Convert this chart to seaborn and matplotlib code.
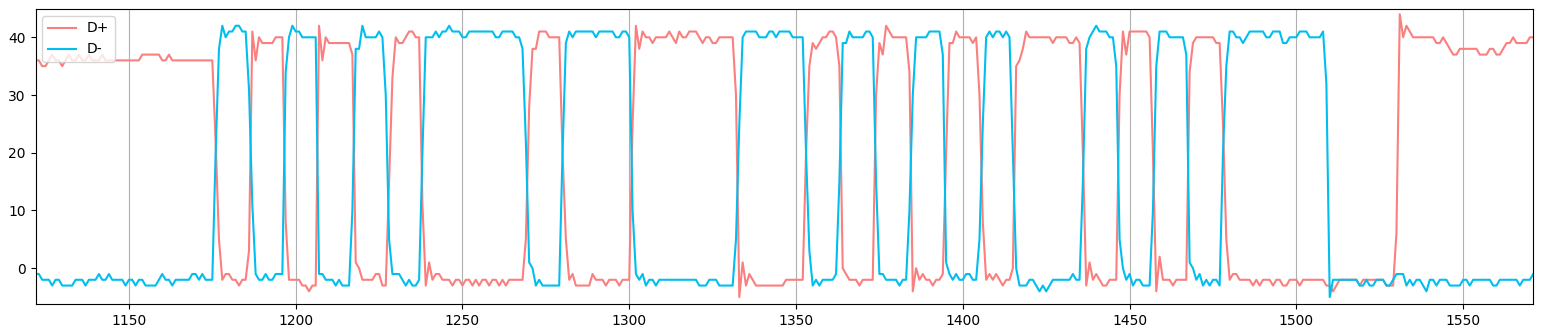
import pandas as pd
import numpy as np
import matplotlib
matplotlib.use("Agg")
import matplotlib.pyplot as plt
import seaborn as sns

# Sample index (x axis)
sample = list(range(1122, 1572))

# D+ signal, one value per sample (rows of 10)
d_plus = [
    36, 36, 35, 35, 36, 37, 36, 36, 35, 36,
    37, 36, 36, 37, 36, 36, 37, 36, 36, 36,
    37, 36, 36, 36, 36, 36, 36, 36, 36, 36,
    36, 36, 37, 37, 37, 37, 37, 37, 36, 36,
    37, 36, 36, 36, 36, 36, 36, 36, 36, 36,
    36, 36, 36, 36, 22, 5, -2, -1, -1, -2,
    -2, -3, -2, -2, 3, 41, 36, 40, 39, 39,
    39, 39, 40, 40, 40, 8, -2, -2, -2, -2,
    -3, -3, -4, -3, -3, 42, 36, 40, 39, 39,
    39, 39, 39, 39, 39, 37, 1, 0, -2, -2,
    -2, -2, -1, -1, -3, -3, 15, 33, 40, 39,
    39, 40, 41, 41, 40, 40, 11, -3, 1, -2,
    -1, -1, -2, -2, -2, -3, -2, -2, -3, -2,
    -2, -3, -2, -3, -2, -2, -3, -2, -2, -3,
    -2, -3, -2, -2, -2, -2, -2, 5, 28, 38,
    38, 41, 41, 41, 40, 40, 40, 40, 20, 5,
    -2, -1, -3, -3, -3, -3, -3, -1, -2, -2,
    -2, -3, -2, -2, -2, -3, -2, -2, -2, 25,
    42, 38, 41, 40, 40, 39, 40, 40, 40, 40,
    41, 40, 39, 41, 40, 40, 41, 41, 41, 40,
    39, 40, 40, 39, 39, 40, 40, 40, 40, 40,
    30, -5, 1, -3, -1, -2, -3, -3, -3, -3,
    -3, -3, -3, -3, -3, -2, -2, -2, -2, -2,
    -2, 20, 35, 39, 38, 39, 40, 40, 41, 41,
    40, 35, 0, -1, -2, -2, -2, -3, -2, -2,
    -2, -2, 30, 39, 37, 42, 41, 40, 40, 40,
    40, 40, 34, -4, 0, -2, -1, -2, -2, -3,
    -2, -2, -1, 20, 39, 39, 41, 40, 40, 40,
    40, 39, 40, 30, 8, -2, -1, -2, -1, -2,
    -3, -2, -2, 0, 35, 36, 38, 41, 40, 40,
    40, 40, 40, 40, 40, 39, 40, 40, 40, 40,
    39, 39, 40, 39, 20, -3, 1, -2, -1, -2,
    -3, -3, -2, -2, -2, 30, 41, 37, 41, 41,
    41, 41, 41, 41, 40, 20, -4, 2, -2, -2,
    -2, -3, -2, -2, -2, -2, 34, 39, 40, 40,
    40, 40, 40, 40, 39, 39, 25, 5, -2, -1,
    -1, -2, -2, -2, -2, -3, -2, -3, -2, -2,
    -2, -3, -2, -2, -3, -3, -2, -2, -2, -3,
    -2, -2, -2, -2, -2, -2, -2, -3, -3, -4,
    -3, -2, -2, -2, -2, -2, -2, -3, -2, -2,
    -2, -2, -2, -2, -2, -3, -3, -3, 6, 44,
    40, 42, 41, 40, 40, 40, 40, 40, 40, 40,
    39, 39, 40, 39, 38, 37, 37, 38, 38, 38,
    38, 38, 38, 37, 37, 37, 38, 38, 37, 37,
    38, 39, 39, 40, 39, 39, 39, 39, 40, 40,
]

# D- signal, one value per sample (rows of 10)
d_minus = [
    -1, -1, -2, -2, -2, -3, -2, -2, -3, -3,
    -3, -3, -2, -2, -2, -3, -2, -2, -2, -1,
    -2, -2, -1, -2, -2, -2, -2, -3, -2, -2,
    -3, -2, -2, -3, -3, -3, -3, -2, -1, -2,
    -2, -3, -2, -2, -2, -2, -2, -1, -1, -2,
    -1, -2, -2, -2, 20, 38, 42, 40, 41, 41,
    42, 42, 41, 41, 31, 11, -1, -2, -2, -1,
    -2, -2, -1, -1, -1, 34, 40, 42, 41, 41,
    40, 40, 40, 40, 40, -1, -1, -2, -2, -2,
    -3, -2, -3, -3, -3, 10, 38, 38, 42, 40,
    40, 40, 40, 41, 40, 30, 5, -1, -1, -1,
    -2, -3, -2, -3, -3, -2, 20, 40, 40, 40,
    41, 40, 41, 41, 42, 41, 41, 41, 40, 40,
    41, 41, 41, 41, 41, 41, 41, 41, 40, 40,
    41, 41, 41, 41, 40, 40, 38, 22, 1, 0,
    -3, -2, -3, -3, -3, -3, -3, -3, 20, 39,
    41, 40, 41, 41, 41, 41, 41, 41, 40, 41,
    41, 41, 41, 41, 40, 40, 41, 41, 40, 10,
    -1, -2, -1, -3, -2, -2, -3, -2, -2, -2,
    -2, -2, -2, -2, -2, -2, -2, -2, -2, -3,
    -3, -3, -2, -2, -2, -3, -3, -3, -3, -3,
    5, 25, 40, 41, 41, 41, 41, 40, 40, 40,
    41, 41, 40, 41, 41, 41, 41, 40, 40, 40,
    40, 20, 3, -3, -2, -3, -2, -2, -2, -2,
    -1, 15, 39, 39, 41, 40, 40, 40, 40, 41,
    41, 40, 15, -1, -1, -2, -2, -2, -2, -3,
    -2, -2, 10, 30, 40, 40, 40, 40, 41, 41,
    41, 41, 37, 1, -1, -2, -1, -2, -2, -1,
    -1, -2, -2, 5, 25, 40, 41, 40, 41, 41,
    40, 41, 40, 20, 0, -3, -3, -3, -2, -2,
    -3, -4, -3, -4, -3, -2, -2, -2, -2, -2,
    -2, -1, -2, -2, 15, 38, 40, 41, 42, 41,
    41, 41, 40, 40, 35, 5, 0, -2, -1, -3,
    -2, -2, -3, -3, -3, 10, 35, 41, 41, 41,
    40, 40, 40, 40, 40, 37, 1, 0, -2, -1,
    -3, -2, -3, -2, -2, -3, 20, 35, 41, 41,
    40, 40, 39, 40, 41, 41, 41, 41, 41, 40,
    40, 41, 41, 41, 39, 39, 40, 40, 40, 41,
    41, 41, 40, 40, 40, 40, 41, 32, -5, -2,
    -2, -2, -2, -2, -2, -2, -2, -3, -3, -2,
    -3, -3, -2, -2, -2, -3, -3, -2, -1, -1,
    -1, -3, -2, -3, -2, -2, -3, -4, -2, -2,
    -3, -2, -2, -2, -3, -3, -3, -3, -2, -2,
    -3, -2, -2, -2, -2, -2, -2, -3, -3, -2,
    -2, -2, -2, -2, -2, -3, -2, -2, -2, -1,
]

# Build a long table for seaborn
df = pd.DataFrame({
    "sample": sample * 2,
    "value": d_plus + d_minus,
    "signal": ["D+"] * len(sample) + ["D-"] * len(sample),
})

fig, ax = plt.subplots(figsize=(15.44, 3.33), dpi=100)
sns.lineplot(data=df, x="sample", y="value", hue="signal",
             palette={"D+": "#fa7f7f", "D-": "#00bfef"},
             linewidth=1.5, ax=ax)

ax.set_xlim(sample[0], sample[-1])
ax.set_ylim(-6.2, 44.9)
ax.grid(axis="x", color="#b0b0b0", linewidth=0.8)
ax.set_xlabel("")
ax.set_ylabel("")
ax.legend(loc="upper left")

plt.subplots_adjust(left=0.023, right=0.993, top=0.973, bottom=0.087)
plt.savefig("out.png", dpi=100)
